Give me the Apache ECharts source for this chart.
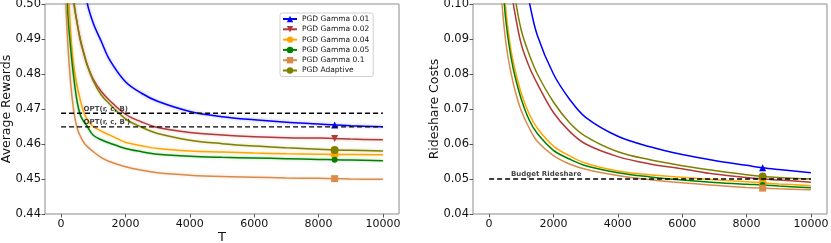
<!DOCTYPE html>
<html><head><meta charset="utf-8">
<script src="https://cdn.jsdelivr.net/npm/echarts@6/dist/echarts.min.js"></script>
<style>html,body{margin:0;padding:0;background:#fff}#c{width:831px;height:243px}</style>
</head><body><div id="c"></div>
<script>
// ---- data ----
const T = [100,200,300,400,500,600,700,800,1000,1250,1500,2000,2500,3000,4000,5000,6000,7000,8000,8500,9000,10000];
const xTicks = [0,2000,4000,6000,8000,10000];
const names = ['PGD Gamma 0.01','PGD Gamma 0.02','PGD Gamma 0.04','PGD Gamma 0.05','PGD Gamma 0.1','PGD Adaptive'];
// Average rewards (left)
const rewG001 = [null,null,null,null,null,0.525,0.510,0.5008,0.4945,0.4893,0.4842,0.4778,0.4745,0.4722,0.4693,0.4678,0.4669,0.4662,0.4657,0.4654,0.4652,0.4649];
const rewG002 = [null,0.600,0.530,0.5005,0.4945,0.4895,0.4860,0.4828,0.4785,0.4750,0.4725,0.4685,0.4663,0.4647,0.4633,0.4626,0.4621,0.4618,0.4617,0.4616,0.4614,0.4612];
const rewG004 = [0.580,0.512,0.4915,0.4818,0.4765,0.4725,0.4692,0.4672,0.4650,0.4637,0.4626,0.4605,0.4595,0.4587,0.4580,0.4577,0.4574,0.4572,0.4571,0.4570,0.4570,0.4569];
const rewG005 = [0.545,0.499,0.487,0.4785,0.4720,0.4682,0.4665,0.4652,0.4625,0.4612,0.4603,0.4587,0.4578,0.4571,0.4565,0.4562,0.4560,0.4558,0.4556,0.4555,0.4554,0.4552];
const rewG01  = [0.512,0.490,0.477,0.469,0.4645,0.4622,0.4605,0.4594,0.4578,0.4561,0.4550,0.4535,0.4525,0.4518,0.4511,0.4507,0.4505,0.4503,0.4502,0.4501,0.4500,0.4499];
const rewAdapt= [null,0.600,0.530,0.501,0.4945,0.4898,0.4862,0.4830,0.4780,0.4740,0.4715,0.4672,0.4648,0.4630,0.4611,0.4601,0.4594,0.4589,0.4585,0.4583,0.4582,0.4580];
// Rideshare costs (right)
const costG001 = [null,null,null,null,null,null,null,null,0.112,0.1005,0.0910,0.0800,0.0728,0.0676,0.0622,0.0592,0.0570,0.0553,0.0539,0.0532,0.0527,0.0518];
const costG002 = [null,null,null,null,null,0.115,0.1035,0.0975,0.0885,0.0820,0.0772,0.0690,0.0636,0.0600,0.0564,0.0543,0.0529,0.0514,0.0504,0.0500,0.0497,0.0491];
const costG004 = [null,null,null,0.114,0.1005,0.0920,0.0858,0.0815,0.0745,0.0685,0.0645,0.0594,0.0566,0.0545,0.0523,0.0512,0.0505,0.0498,0.0492,0.0489,0.0486,0.0481];
const costG005 = [null,null,null,0.110,0.0970,0.0895,0.0838,0.0795,0.0728,0.0668,0.0630,0.0582,0.0557,0.0538,0.0518,0.0506,0.0497,0.0490,0.0485,0.0483,0.0480,0.0475];
const costG01  = [null,null,0.114,0.1000,0.0905,0.0842,0.0795,0.0755,0.0695,0.0645,0.0607,0.0567,0.0543,0.0528,0.0510,0.0498,0.0489,0.0482,0.0476,0.0474,0.0472,0.0469];
const costAdapt= [null,null,null,null,null,null,0.112,0.1025,0.0925,0.0855,0.0800,0.0720,0.0661,0.0622,0.0578,0.0555,0.0538,0.0524,0.0512,0.0507,0.0504,0.0500];
const markerT = 8500;
// reference lines
const optB = 0.4688, optBp = 0.4649, budget = 0.05;
const refX = [0, 10000];
const optLabels = ['OPT(r, c, B)', "OPT(r, c, B')"];
const budgetLabel = 'Budget Rideshare';
const labelT = 700, budgetLabelT = 680;

// ---- styles ----
const colors = ['#0000ff','#b23a3a','#ffa500','#008000','#d98b4a','#808000'];
const symbols = ['triangle','triangle','circle','circle','rect','circle'];
const rotates = [0,180,0,0,0,0];
const msizes = [7,7,8,6,7,8];
const rew = [rewG001,rewG002,rewG004,rewG005,rewG01,rewAdapt];
const cost = [costG001,costG002,costG004,costG005,costG01,costAdapt];
const FONT = 'DejaVu Sans';

function toPairs(vals){ const out=[]; vals.forEach((v,i)=>{ if(v!==null) out.push([T[i],v]); }); return out; }
function hexA(h,a){const r=parseInt(h.slice(1,3),16),g=parseInt(h.slice(3,5),16),b=parseInt(h.slice(5,7),16);return `rgba(${r},${g},${b},${a})`;}

const series = [];
[rew, cost].forEach((set, gi) => {
  set.forEach((vals, i) => {
    series.push({
      type:'line', name:names[i], xAxisIndex:gi, yAxisIndex:gi,
      data: toPairs(vals), smooth:0.35, clip:true,
      showSymbol:true, showAllSymbol:true, symbol:symbols[i], symbolRotate:rotates[i],
      symbolSize: (v)=> v[0]===markerT ? msizes[i] : 0,
      color: colors[i],
      lineStyle:{width:1.5, color:colors[i], shadowColor: gi===0?hexA(colors[i],0.35):'transparent', shadowBlur: gi===0?3:0},
      itemStyle:{color:colors[i]},
      emphasis:{disabled:true}, animation:false, z: 3
    });
  });
});
function refLine(gi, y){
  return {type:'line', xAxisIndex:gi, yAxisIndex:gi, data: refX.map(x=>[x,y]), symbol:'none',
    lineStyle:{color:'#000', width:1.4, type:[5,3]}, z:4, animation:false, emphasis:{disabled:true}};
}
function refText(gi, x, y, txt){
  return {type:'scatter', xAxisIndex:gi, yAxisIndex:gi, data:[[x,y]], symbolSize:0, z:5, animation:false,
    label:{show:true, formatter:txt, position:'top', align:'left', distance:1,
      fontFamily:FONT, fontSize:7, fontWeight:'bold', color:'#111'}, emphasis:{disabled:true}};
}
series.push(refLine(0,optB), refLine(0,optBp), refLine(1,budget));
series.push(refText(0,labelT,optB,optLabels[0]), refText(0,labelT,optBp,optLabels[1]), refText(1,budgetLabelT,budget,budgetLabel));

function xAxis(gi, name){
  return {type:'value', gridIndex:gi, min:-500, max:10500, name:name, nameLocation:'middle', nameGap:17, nameMoveOverlap:false,
    nameTextStyle:{fontFamily:FONT, fontSize:13, color:'#111'},
    axisLine:{show:false, onZero:false}, splitLine:{show:false},
    axisTick:{show:true, length:3.5, lineStyle:{color:'#555'}, customValues:xTicks},
    axisLabel:{fontFamily:FONT, fontSize:11, color:'#111', margin:5, customValues:xTicks, formatter:(v)=>String(v)}};
}
function yAxis(gi, name, min, max){
  return {type:'value', gridIndex:gi, min:min, max:max, interval:0.01, name:name, nameLocation:'middle', nameGap:32, nameMoveOverlap:false,
    nameTextStyle:{fontFamily:FONT, fontSize:12.5, color:'#111'},
    axisLine:{show:false, onZero:false}, splitLine:{show:false},
    axisTick:{show:true, length:3.5, lineStyle:{color:'#555'}},
    axisLabel:{fontFamily:FONT, fontSize:11.5, color:'#111', margin:4, formatter:(v)=>v.toFixed(2)}};
}

const chart = echarts.init(document.getElementById('c'), null, {renderer:'canvas'});
chart.setOption({
  animation:false,
  grid:[
    {left:45, top:4, width:354, height:210, show:true, borderColor:'#8c8c8c', borderWidth:1, backgroundColor:'#fff', outerBoundsMode:'none', containLabel:false},
    {left:473, top:4, width:354, height:210, show:true, borderColor:'#8c8c8c', borderWidth:1, backgroundColor:'#fff', outerBoundsMode:'none', containLabel:false}
  ],
  xAxis:[xAxis(0,'T'), xAxis(1,'')],
  yAxis:[yAxis(0,'Average Rewards',0.44,0.50), yAxis(1,'Rideshare Costs',0.04,0.10)],
  legend:{data:names, orient:'vertical', left:280, top:13, itemWidth:14, itemHeight:8, itemGap:2.3,
    padding:[2,4,2,2], backgroundColor:'#fff', borderColor:'#d0d0d0', borderWidth:1, borderRadius:2,
    textStyle:{fontFamily:FONT, fontSize:7.5, color:'#111'}, selectedMode:false},
  series: series
});
</script></body></html>
